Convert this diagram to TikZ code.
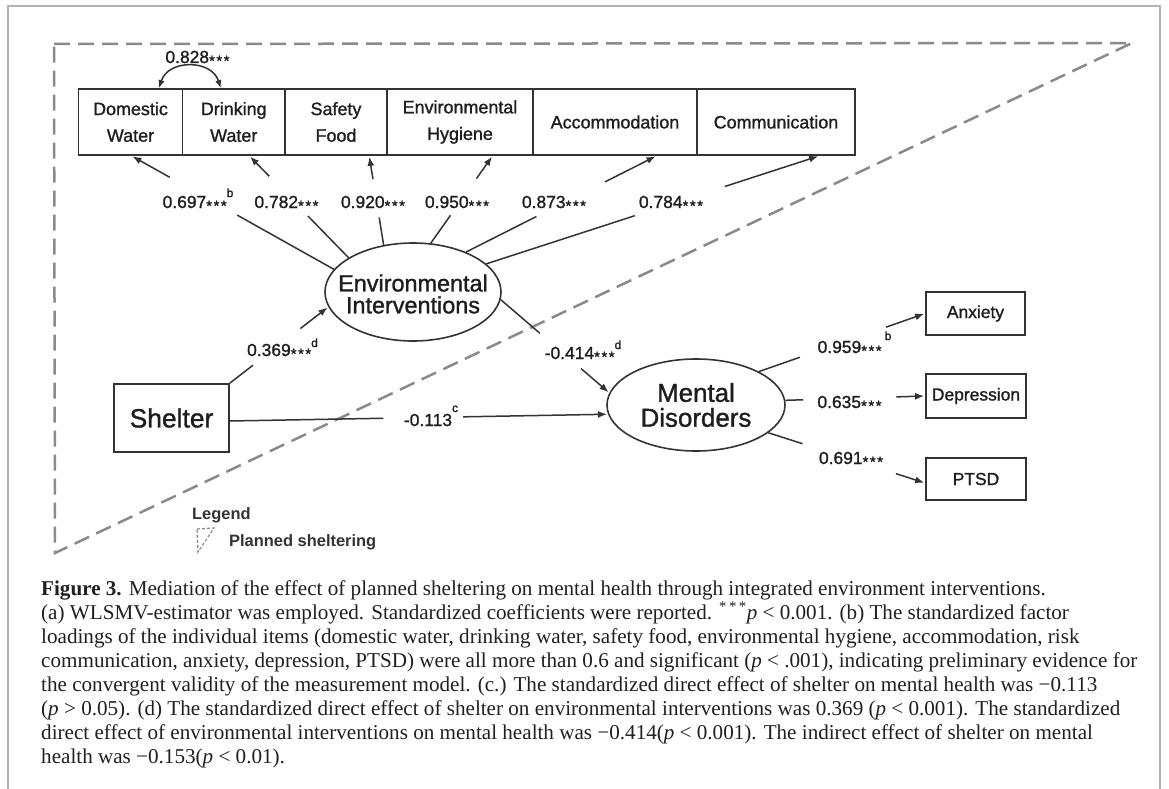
\documentclass[tikz,border=0pt]{standalone}
\usepackage{fontspec}
\setmainfont{Liberation Serif}
\newfontfamily\dfont[FakeBold=1.2]{Liberation Sans}
\newfontfamily\lfont{Liberation Sans}
\usetikzlibrary{arrows.meta,calc,shapes.geometric}
\definecolor{ink}{HTML}{1E1E1E}
\definecolor{lin}{HTML}{333333}
\definecolor{dashc}{HTML}{8A8A8A}
\definecolor{framec}{HTML}{B4B4B4}
\definecolor{capc}{HTML}{231F20}
\newcommand\st{{\fontsize{15}{15}\selectfont\raisebox{-3bp}{*\kern1.5bp*\kern1.5bp*}}}
\newcommand\supl[2][10]{\raisebox{#1bp}{\fontsize{12}{12}\selectfont #2}}
\begin{document}
\begin{tikzpicture}[x=1bp,y=-1bp,
  box/.style={draw=lin,line width=1.8bp,inner sep=0,align=center,text=ink,font=\dfont\fontsize{18}{26.7}\selectfont},
  ell/.style={draw=lin,line width=1.6bp,ellipse,inner sep=0,fill=white},
  conn/.style={draw=lin,line width=1.5bp},
  arr/.style={conn,-{Latex[length=9bp,width=7bp]},shorten >=1bp},
  lab/.style={inner sep=0,anchor=base,text=ink,font=\dfont\fontsize{17.5}{17.5}\selectfont},
  leg/.style={inner sep=0,anchor=base west,text=lin,font=\lfont\bfseries\fontsize{16.5}{16.5}\selectfont},
  capl/.style={inner sep=0,anchor=base west,text=capc,font=\fontsize{21.2}{21.2}\selectfont}]
\fill[white] (0,0) rectangle (1169,789);
\useasboundingbox (0,0) rectangle (1169,789);
% outer frame
\draw[framec,line width=1.6bp] (8,789) -- (8,6) -- (1160,6) -- (1160,789);
% planned sheltering triangle
\draw[dashc,line width=2.5bp,dash pattern=on 16bp off 8bp] (54,44) -- (1132,43) -- (55,553) -- cycle;
% legend
\draw[dashc,line width=1.2bp,dash pattern=on 3bp off 2bp] (197,529) -- (214,528) -- (198,552) -- cycle;
\node[leg] (legt) at (192,519) {Legend};
\node[leg] (legp) at (229,546) {Planned sheltering};

% indicator boxes
\node[box,minimum width=104bp,minimum height=66bp] (dom) at (130.5,122) {Domestic\\Water};
\node[box,minimum width=102.5bp,minimum height=66bp] (drk) at (233.75,122) {Drinking\\Water};
\node[box,minimum width=102bp,minimum height=66bp] (saf) at (336,122) {Safety\\Food};
\node[box,minimum width=146bp,minimum height=66bp] (hyg) at (460,122) {Environmental\\Hygiene};
\node[box,minimum width=164bp,minimum height=66bp] (acc) at (615,122) {Accommodation};
\node[box,minimum width=158bp,minimum height=66bp] (com) at (776,122) {Communication};

\node[box,minimum width=115bp,minimum height=68bp,font=\dfont\fontsize{26.5}{26.5}\selectfont] (sh) at (171.5,418) {Shelter};
\node[box,minimum width=99bp,minimum height=43bp,font=\dfont\fontsize{17.5}{17.5}\selectfont] (anx) at (975.5,313.5) {Anxiety};
\node[box,minimum width=100bp,minimum height=44bp,font=\dfont\fontsize{17.5}{17.5}\selectfont] (dep) at (976,396) {Depression};
\node[box,minimum width=100bp,minimum height=42bp,font=\dfont\fontsize{17.5}{17.5}\selectfont] (ptsd) at (976,479) {PTSD};

% latent variables
\node[ell,minimum width=176bp,minimum height=98bp] (ei) at (413,292) {};
\node[inner sep=0,align=center,text=ink,font=\dfont\fontsize{23.5}{22}\selectfont] (eit) at (413,294) {Environmental\\Interventions};
\node[ell,minimum width=178bp,minimum height=92bp,align=center,text=ink,font=\dfont\fontsize{26}{25}\selectfont] (md) at (696,405) {Mental\\Disorders};

% covariance
\draw[conn,{Latex[length=8bp,width=6.5bp]}-{Latex[length=8bp,width=6.5bp]}]
  ($(dom.north west)!0.77!(dom.north east)$) .. controls +(9,-29) and +(-9,-29) .. ($(drk.north west)!0.375!(drk.north east)$);
\node[lab] (l828) at (197.5,63) {0.828\st};

% loadings of environmental interventions
\path (ei.164.6) coordinate (s1) ($(dom.south west)!0.51!(dom.south east)$) coordinate (e1);
\draw[conn] (s1) -- ($(s1)!0.478!(e1)$);
\draw[arr] ($(s1)!0.811!(e1)$) -- (e1);
\path (ei.152.3) coordinate (s2) ($(drk.south west)!0.65!(drk.south east)$) coordinate (e2);
\draw[conn] (s2) -- ($(s2)!0.41!(e2)$);
\draw[arr] ($(s2)!0.80!(e2)$) -- (e2);
\path (ei.122.5) coordinate (s3) ($(saf.south west)!0.82!(saf.south east)$) coordinate (e3);
\draw[conn] (s3) -- ($(s3)!0.31!(e3)$);
\draw[arr] ($(s3)!0.74!(e3)$) -- (e3);
\path (ei.70.1) coordinate (s4) ($(hyg.south west)!0.72!(hyg.south east)$) coordinate (e4);
\draw[conn] (s4) -- ($(s4)!0.32!(e4)$);
\draw[arr] ($(s4)!0.74!(e4)$) -- (e4);
\path (ei.37.6) coordinate (s5) ($(acc.south west)!0.75!(acc.south east)$) coordinate (e5);
\draw[conn] (s5) -- ($(s5)!0.37!(e5)$);
\draw[arr] ($(s5)!0.73!(e5)$) -- (e5);
\path (ei.21.7) coordinate (s6) ($(com.south west)!0.77!(com.south east)$) coordinate (e6);
\draw[conn] (s6) -- ($(s6)!0.446!(e6)$);
\draw[arr] ($(s6)!0.717!(e6)$) -- (e6);
\node[lab] (l697) at (198,208) {0.697\st\supl[11]{b}};
\node[lab] (l782) at (286.5,208) {0.782\st};
\node[lab] (l920) at (373,208) {0.920\st};
\node[lab] (l950) at (457,208) {0.950\st};
\node[lab] (l873) at (554,208) {0.873\st};
\node[lab] (l784) at (671,208) {0.784\st};

% structural paths
\path (sh.north east) coordinate (s7) (ei.190.4) coordinate (e7);
\draw[conn] (s7) -- ($(s7)!0.235!(e7)$);
\draw[arr] ($(s7)!0.716!(e7)$) -- (e7);
\node[lab] (l369) at (282.5,356) {0.369\st\supl[9]{d}};

\path ($(sh.east)+(0,3)$) coordinate (s8) (md.186) coordinate (e8);
\draw[conn] (s8) -- ($(s8)!0.406!(e8)$);
\draw[arr] ($(s8)!0.617!(e8)$) -- (e8);
\node[lab] (l113) at (431,426) {-0.113\supl[14]{c}};

\path (ei.-5) coordinate (s9) (md.172) coordinate (e9);
\draw[conn] (s9) -- ($(s9)!0.36!(e9)$);
\draw[arr] ($(s9)!0.74!(e9)$) -- (e9);
\node[lab] (l414) at (583,359) {-0.414\st\supl[10]{d}};

% loadings of mental disorders
\path (md.28.3) coordinate (s10) (anx.west) coordinate (e10);
\draw[conn] (s10) -- ($(s10)!0.247!(e10)$);
\draw[arr] ($(s10)!0.765!(e10)$) -- (e10);
\path (md.3) coordinate (s11) (dep.west) coordinate (e11);
\draw[conn] (s11) -- ($(s11)!0.128!(e11)$);
\draw[arr] ($(s11)!0.794!(e11)$) -- (e11);
\path (md.-21) coordinate (s12) ($(ptsd.west)+(0,4)$) coordinate (e12);
\draw[conn] (s12) -- ($(s12)!0.218!(e12)$);
\draw[arr] ($(s12)!0.814!(e12)$) -- (e12);
\node[lab] (l959) at (854.5,353) {0.959\st\kern3bp\supl[13]{b}};
\node[lab] (l635) at (849.5,408) {0.635\st};
\node[lab] (l691) at (851,464) {0.691\st};

% caption
\node[capl] (c1) at (41,595) {\textbf{Figure 3.} Mediation of the effect of planned sheltering on mental health through integrated environment interventions.};
\node[capl] (c2) at (41,619) {(a) WLSMV-estimator was employed. Standardized coefficients were reported. \textsuperscript{*\,*\,*}\textit{p} < 0.001. (b) The standardized factor};
\node[capl] (c3) at (41,643) {loadings of the individual items (domestic water, drinking water, safety food, environmental hygiene, accommodation, risk};
\node[capl] (c4) at (41,667) {communication, anxiety, depression, PTSD) were all more than 0.6 and significant (\textit{p} < .001), indicating preliminary evidence for};
\node[capl] (c5) at (41,691) {the convergent validity of the measurement model. (c.) The standardized direct effect of shelter on mental health was −0.113};
\node[capl] (c6) at (41,715) {(\textit{p} > 0.05). (d) The standardized direct effect of shelter on environmental interventions was 0.369 (\textit{p} < 0.001). The standardized};
\node[capl] (c7) at (41,739) {direct effect of environmental interventions on mental health was −0.414(\textit{p} < 0.001). The indirect effect of shelter on mental};
\node[capl] (c8) at (41,763) {health was −0.153(\textit{p} < 0.01).};
\end{tikzpicture}
\end{document}
